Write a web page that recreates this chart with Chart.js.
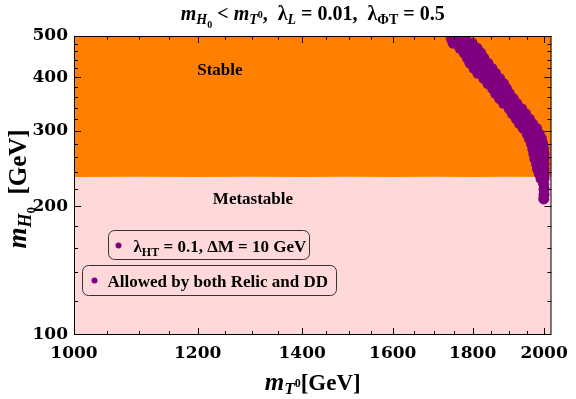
<!DOCTYPE html>
<html>
<head>
<meta charset="utf-8">
<script src="https://cdn.jsdelivr.net/npm/chart.js@4.4.1/dist/chart.umd.min.js"></script>
<style>
  html, body { margin: 0; padding: 0; background: #fff; }
  #wrap { width: 576px; height: 399px; }
</style>
</head>
<body>
<div id="wrap"><canvas id="c"></canvas></div>
<script>
// axis ticks
const xMajor = [1000, 1200, 1400, 1600, 1800, 2000];
const xMinor = [1050, 1100, 1150, 1250, 1300, 1350, 1450, 1500, 1550, 1650, 1700, 1750, 1850, 1900, 1950];
const yMajor = [100, 200, 300, 400, 500];
const yMinor = [120, 140, 160, 180, 220, 240, 260, 280, 320, 340, 360, 380, 420, 440, 460, 480];

// lower edge of the stable (orange) region
const stableX = [1000, 1100, 1200, 1300, 1400, 1500, 1600, 1700, 1800, 1900, 2030];
const stableY = [234, 234.5, 234, 234.5, 234, 234.5, 234, 234.5, 234, 234.5, 234];

// points allowed by both relic and DD  [m_T0, m_H0]
const allowedPoints = [
  [1744, 494], [1762, 494], [1780, 494],
  [1749, 481], [1774, 481], [1799, 481],
  [1767, 468], [1792, 468], [1812, 468],
  [1778, 456], [1800, 456], [1822, 456],
  [1786, 444], [1808, 444], [1830, 444],
  [1793, 432], [1817, 432], [1841, 432],
  [1804, 420], [1828, 420], [1852, 420],
  [1814, 409], [1839, 409], [1862, 409],
  [1830, 398], [1852, 398], [1873, 398],
  [1841, 387], [1862, 387], [1884, 387],
  [1854, 377], [1872, 377], [1892, 377],
  [1862, 367], [1881, 367], [1900, 367],
  [1873, 357], [1892, 357], [1911, 357],
  [1884, 348], [1903, 348], [1921, 348],
  [1900, 338], [1916, 338], [1935, 338],
  [1909, 329], [1928, 329], [1946, 329],
  [1920, 320], [1939, 320], [1957, 320],
  [1929, 312], [1947, 312], [1966, 312],
  [1940, 304], [1959, 304], [1978, 304],
  [1951, 295], [1969, 295], [1986, 295],
  [1957, 288], [1975, 288], [1992, 288],
  [1963, 280], [1980, 280], [1996, 280],
  [1967, 272], [1985, 272], [1999, 272],
  [1970, 265], [1987, 265], [2000, 265],
  [1973, 258], [1989, 258], [2000, 258],
  [1978, 251], [1990, 251], [2000, 251],
  [1981, 244], [1991, 244], [2000, 244],
  [1986, 238], [2000, 238],
  [1991, 232], [2000, 232],
  [1999, 225], [2000, 219], [2000, 213], [1999, 208]
];

// region labels [text, m_T0, m_H0]
const regionLabels = [["Stable", 1240, 416], ["Metastable", 1302, 207]];
const legendLabels = ["\u03bb_HT = 0.1, \u0394M = 10 GeV", "Allowed by both Relic and DD"];

const ORANGE = "#ff8000";
const PINK = "#ffd9d9";
const PURPLE = "#800080";
const SERIF = "'Liberation Serif', 'Times New Roman', serif";
const TICKFONT = "'DejaVu Serif', serif";

// pieces are [text, font, dy]
function richWidth(ctx, parts) {
  let w = 0;
  parts.forEach(p => { ctx.font = p[1]; w += ctx.measureText(p[0]).width; });
  return w;
}
function drawRich(ctx, parts, x, y, left) {
  let cx = left ? x : x - richWidth(ctx, parts) / 2;
  ctx.textAlign = "left";
  ctx.textBaseline = "alphabetic";
  parts.forEach(p => {
    ctx.font = p[1];
    ctx.fillText(p[0], cx, y + (p[2] || 0));
    cx += ctx.measureText(p[0]).width;
  });
}
function roundRect(ctx, x, y, w, h, r) {
  ctx.beginPath();
  ctx.moveTo(x + r, y);
  ctx.arcTo(x + w, y, x + w, y + h, r);
  ctx.arcTo(x + w, y + h, x, y + h, r);
  ctx.arcTo(x, y + h, x, y, r);
  ctx.arcTo(x, y, x + w, y, r);
  ctx.closePath();
}

const bgPlugin = {
  id: "bg",
  beforeDraw(chart) {
    const { ctx, chartArea: a } = chart;
    ctx.save();
    ctx.fillStyle = PINK;
    ctx.fillRect(a.left, a.top, a.right - a.left, a.bottom - a.top);
    ctx.restore();
  }
};

const framePlugin = {
  id: "frame",
  afterDatasetsDraw(chart) {
    const { ctx, chartArea: a, scales } = chart;
    const xs = scales.x, ys = scales.y;
    ctx.save();
    ctx.fillStyle = "#000";
    // region labels
    ctx.font = "bold 17px " + SERIF;
    ctx.textAlign = "center";
    ctx.textBaseline = "middle";
    regionLabels.forEach(l => ctx.fillText(l[0], xs.getPixelForValue(l[1]), ys.getPixelForValue(l[2])));

    // legend boxes
    ctx.strokeStyle = "#333";
    ctx.lineWidth = 1;
    const b1 = { x: a.left + 34.5, y: 230.5, w: 201, h: 29 };
    const b2 = { x: a.left + 8.5, y: 265.5, w: 254, h: 30 };
    [b1, b2].forEach(b => { roundRect(ctx, b.x, b.y, b.w, b.h, 6); ctx.stroke(); });
    ctx.fillStyle = PURPLE;
    ctx.beginPath(); ctx.arc(b1.x + 10, b1.y + 15, 3, 0, Math.PI * 2); ctx.fill();
    ctx.beginPath(); ctx.arc(b2.x + 12, b2.y + 15, 3, 0, Math.PI * 2); ctx.fill();
    ctx.fillStyle = "#000";
    const f = "bold 17px " + SERIF, fs = "bold 12px " + SERIF;
    drawRich(ctx, [["\u03bb", f], ["HT", fs, 4], [" = 0.1, \u0394M = 10 GeV", f]], b1.x + 25, b1.y + 21, true);
    drawRich(ctx, [[legendLabels[1], f]], b2.x + 25, b2.y + 21, true);

    // frame
    ctx.strokeStyle = "#000";
    ctx.lineWidth = 1;
    ctx.strokeRect(a.left + 0.5, a.top + 0.5, a.right - a.left - 1, a.bottom - a.top - 1);
    ctx.beginPath();
    const tick = (vals, len) => {
      vals.forEach(v => {
        const px = Math.round(xs.getPixelForValue(v)) + 0.5;
        if (px < a.left || px > a.right) return;
        ctx.moveTo(px, a.bottom); ctx.lineTo(px, a.bottom - len);
        ctx.moveTo(px, a.top); ctx.lineTo(px, a.top + len);
      });
    };
    const ytick = (vals, len) => {
      vals.forEach(v => {
        const py = Math.round(ys.getPixelForValue(v)) + 0.5;
        if (py < a.top || py > a.bottom) return;
        ctx.moveTo(a.left, py); ctx.lineTo(a.left + len, py);
        ctx.moveTo(a.right, py); ctx.lineTo(a.right - len, py);
      });
    };
    tick(xMajor, 7); tick(xMinor, 4);
    ytick(yMajor, 7); ytick(yMinor, 4);
    ctx.stroke();
    ctx.restore();
  },
  afterDraw(chart) {
    const { ctx, chartArea: a } = chart;
    const cx = (a.left + a.right) / 2;
    ctx.save();
    ctx.fillStyle = "#000";
    const BI = "italic bold 20px " + SERIF, B = "bold 20px " + SERIF;
    const bi = "italic bold 14px " + SERIF, b = "bold 14px " + SERIF, bb = "bold 10px " + SERIF;
    drawRich(ctx, [
      ["m", BI], ["H", bi, 4], ["0", bb, 8], [" < ", B], ["m", BI], ["T", bi, 4], ["0", bb, -2],
      [",  \u03bb", B], ["L", bi, 4], [" = 0.01,  \u03bb", B], ["\u03a6T", b, 4], [" = 0.5", B]
    ], cx, 20);
    const AI = "italic bold 25px " + SERIF, A = "bold 23px " + SERIF;
    const ai = "italic bold 17px " + SERIF, ab = "bold 12px " + SERIF;
    drawRich(ctx, [["m", AI], ["T", ai, 4], ["0", ab, -3], ["[GeV]", A]], cx, 390);
    const YI = "italic bold 27px " + SERIF, Y = "bold 25px " + SERIF;
    const yi = "italic bold 18px " + SERIF, yb = "bold 13px " + SERIF;
    ctx.translate(26, 189);
    ctx.rotate(-Math.PI / 2);
    drawRich(ctx, [["m", YI], ["H", yi, 5], ["0", yb, 9], ["  [GeV]", Y]], 0, 0);
    ctx.restore();
  }
};

new Chart(document.getElementById("c"), {
  type: "scatter",
  data: {
    datasets: [
      {
        label: "Allowed by both Relic and DD",
        data: allowedPoints.map(p => ({ x: p[0], y: p[1] })),
        backgroundColor: PURPLE,
        borderWidth: 0,
        pointRadius: 5.5,
        order: 1
      },
      {
        type: "line",
        label: "Stable",
        data: stableX.map((x, i) => ({ x: x, y: stableY[i] })),
        borderWidth: 0,
        pointRadius: 0,
        backgroundColor: ORANGE,
        fill: "end",
        order: 2
      }
    ]
  },
  options: {
    responsive: true,
    maintainAspectRatio: false,
    animation: false,
    layout: { padding: { top: 36, right: 18, left: 0, bottom: 0 } },
    plugins: {
      legend: { display: false },
      tooltip: { enabled: false }
    },
    scales: {
      x: {
        type: "logarithmic",
        min: 1000,
        max: 2022,
        afterBuildTicks: s => { s.ticks = xMajor.map(v => ({ value: v })); },
        afterFit: s => { s.height = 64; },
        grid: { display: false, drawTicks: false },
        border: { display: false },
        ticks: {
          color: "#000",
          padding: 8,
          maxRotation: 0,
          autoSkip: false,
          font: { family: TICKFONT, size: 17, weight: "bold" },
          callback: v => String(v)
        }
      },
      y: {
        type: "logarithmic",
        min: 100,
        max: 500,
        afterBuildTicks: s => { s.ticks = yMajor.map(v => ({ value: v })); },
        afterFit: s => { s.width = 74; },
        grid: { display: false, drawTicks: false },
        border: { display: false },
        ticks: {
          color: "#000",
          padding: 6,
          autoSkip: false,
          font: { family: TICKFONT, size: 17, weight: "bold" },
          callback: v => String(v)
        }
      }
    }
  },
  plugins: [bgPlugin, framePlugin]
});
</script>
</body>
</html>
